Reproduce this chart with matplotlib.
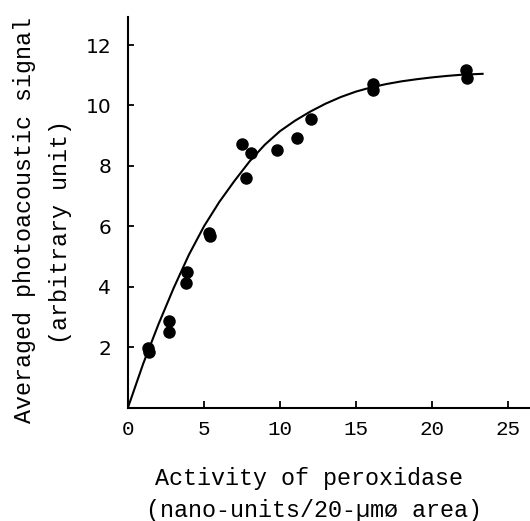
import matplotlib
matplotlib.use("Agg")
import matplotlib.pyplot as plt

# Measured points
activity = [1.3, 1.35, 2.7, 2.7, 3.8, 3.86, 5.3, 5.4, 7.48, 7.76, 8.07, 9.78, 11.1, 12.02, 16.14, 16.14, 22.24, 22.28]
signal = [1.97, 1.85, 2.85, 2.5, 4.13, 4.5, 5.78, 5.68, 8.71, 7.61, 8.44, 8.53, 8.91, 9.54, 10.71, 10.51, 11.18, 10.9]

# Fitted curve
curve_x = [0, 1, 2, 3, 4, 5, 6, 7, 8, 9, 10, 11, 12, 13, 14, 15, 16, 17, 18, 19, 20, 21, 22, 23.4]
curve_y = [0, 1.45, 2.75, 3.95, 5.05, 6.0, 6.8, 7.5, 8.15, 8.7, 9.15, 9.5, 9.8, 10.06, 10.28, 10.46, 10.6, 10.71, 10.8, 10.87, 10.93, 10.98, 11.02, 11.05]

x_ticks = [0, 5, 10, 15, 20, 25]
y_ticks = [2, 4, 6, 8, 10, 12]

W, H = 530, 521
fig = plt.figure(figsize=(W / 100, H / 100), dpi=100)
ax = fig.add_axes([128 / W, 1 - 407.5 / H, 1 - 128 / W, (407.5 - 17) / H])

ax.plot(curve_x, curve_y, color="black", lw=1.5, solid_capstyle="butt", solid_joinstyle="round")
ax.plot(activity, signal, "o", color="black", markersize=9, markeredgewidth=0)

ax.set_xlim(0, 26.45)
ax.set_ylim(0, 12.93)
ax.spines["top"].set_visible(False)
ax.spines["right"].set_visible(False)
for s in ("left", "bottom"):
    ax.spines[s].set_linewidth(1.5)

ax.set_xticks(x_ticks)
ax.set_yticks(y_ticks)
ax.set_xticklabels([str(t) for t in x_ticks], family="Liberation Mono", fontsize=15)
ax.set_yticklabels([str(t) for t in y_ticks], family="DejaVu Sans", fontsize=14.5)
ax.tick_params(axis="x", direction="in", length=5, width=1.3, pad=9)
ax.tick_params(axis="y", direction="in", length=4, width=1.3, pad=12)

mono = "Liberation Mono"
fig.text(25 / W, 1 - 220 / H, "Averaged photoacoustic signal", rotation=90,
         ha="center", va="center", family=mono, fontsize=16.8)
fig.text(61 / W, 1 - 232 / H, "(arbitrary unit)", rotation=90,
         ha="center", va="center", family=mono, fontsize=16.8)
fig.text(309 / W, 1 - 478 / H, "Activity of peroxidase",
         ha="center", va="center", family=mono, fontsize=16.8)
fig.text(314 / W, 1 - 510 / H, "(nano-units/20-\u00b5m\u00f8 area)",
         ha="center", va="center", family=mono, fontsize=16.8)

fig.savefig("out.png", dpi=100)
